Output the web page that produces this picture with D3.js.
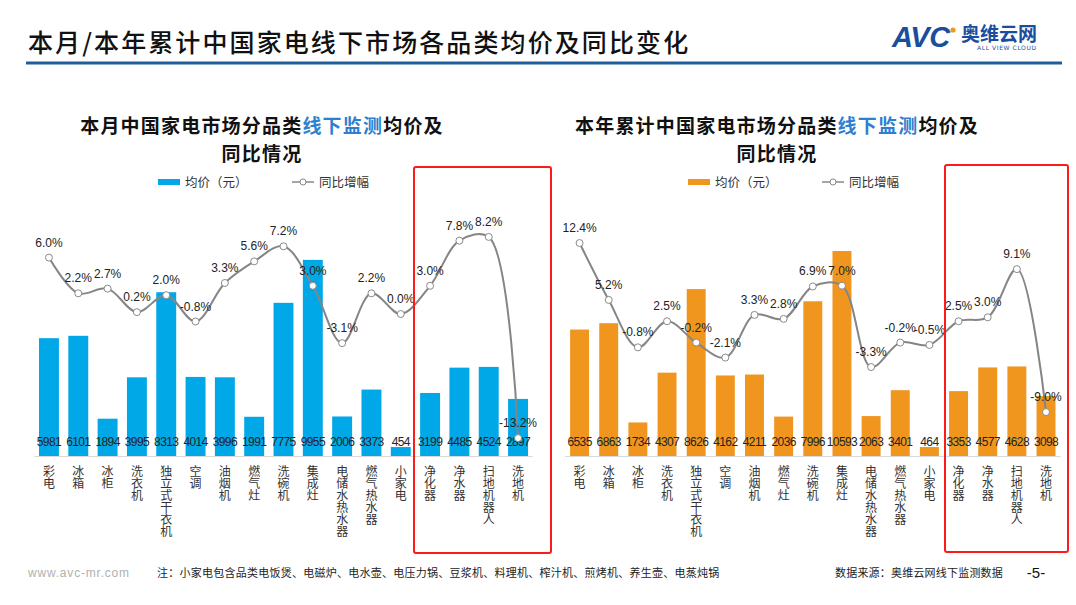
<!DOCTYPE html>
<html><head><meta charset="utf-8">
<script src="https://cdn.jsdelivr.net/npm/d3@7"></script>
<style>
html,body{margin:0;padding:0;background:#fff;}
svg{display:block;font-family:"Noto Sans CJK SC","Noto Sans",sans-serif;}
.vt{writing-mode:vertical-rl;text-orientation:upright;}
</style></head>
<body>
<svg id="c" width="1076" height="605"></svg>
<script>
const categories = ["彩电","冰箱","冰柜","洗衣机","独立式干衣机","空调","油烟机","燃气灶","洗碗机","集成灶","电储水热水器","燃气热水器","小家电","净化器","净水器","扫地机器人","洗地机"];
const monthPrice = [5981,6101,1894,3995,8313,4014,3996,1991,7775,9955,2006,3373,454,3199,4485,4524,2897];
const monthYoY = [6.0,2.2,2.7,0.2,2.0,-0.8,3.3,5.6,7.2,3.0,-3.1,2.2,0.0,3.0,7.8,8.2,-13.2];
const yearPrice = [6535,6863,1734,4307,8626,4162,4211,2036,7996,10593,2063,3401,464,3353,4577,4628,3098];
const yearYoY = [12.4,5.2,-0.8,2.5,-0.2,-2.1,3.3,2.8,6.9,7.0,-3.3,-0.2,-0.5,2.5,3.0,9.1,-9.0];
const legendBar = "均价（元）";
const legendLine = "同比增幅";
const pageTitle = "本月/本年累计中国家电线下市场各品类均价及同比变化";
const note = "注：小家电包含品类电饭煲、电磁炉、电水壶、电压力锅、豆浆机、料理机、榨汁机、煎烤机、养生壶、电蒸炖锅";
const source = "数据来源：奥维云网线下监测数据";

const svg = d3.select("#c");

// Header
svg.append("text").attr("x", 28).attr("y", 52).attr("font-size", 25).attr("font-weight", 500)
  .attr("letter-spacing", 2.1).attr("fill", "#111").text(pageTitle);
svg.append("rect").attr("x", 26).attr("y", 61.5).attr("width", 1036).attr("height", 3).attr("fill", "#1f5d9e");
// Logo
svg.append("text").attr("x", 892).attr("y", 47).attr("font-family", "Liberation Sans, sans-serif")
  .attr("font-size", 29).attr("font-weight", 700).attr("font-style", "italic").attr("letter-spacing", -0.5)
  .attr("fill", "#1a4e9c").text("AVC");
svg.append("circle").attr("cx", 953).attr("cy", 30).attr("r", 2.6).attr("fill", "#f0961e");
svg.append("text").attr("x", 961).attr("y", 41).attr("font-size", 19).attr("font-weight", 700)
  .attr("fill", "#1a4e9c").text("奥维云网");
svg.append("text").attr("x", 977).attr("y", 50).attr("font-family", "DejaVu Sans, sans-serif")
  .attr("font-size", 6).attr("letter-spacing", 0.6).attr("fill", "#1a4e9c").text("ALL VIEW CLOUD");

// Footer
svg.append("text").attr("x", 28).attr("y", 577).attr("font-family", "Liberation Sans, sans-serif")
  .attr("font-size", 12).attr("letter-spacing", 0.8).attr("fill", "#b0b0b0").text("www.avc-mr.com");
svg.append("text").attr("x", 157).attr("y", 577).attr("font-size", 11).attr("letter-spacing", 0.25)
  .attr("fill", "#222").text(note);
svg.append("text").attr("x", 835).attr("y", 577).attr("font-size", 11).attr("letter-spacing", 0.2)
  .attr("fill", "#222").text(source);
svg.append("text").attr("x", 1036).attr("y", 578).attr("text-anchor", "middle").attr("font-family", "Liberation Sans, sans-serif")
  .attr("font-size", 15).attr("fill", "#111").text("-5-");

function drawChart(cfg) {
  const g = svg.append("g");
  const x = d3.scaleBand().domain(categories).range(cfg.xRange).paddingInner(cfg.pad).paddingOuter(cfg.pad / 2);
  const yBar = d3.scaleLinear().domain([0, 10000]).range([cfg.base, cfg.bar10k]);
  const yLine = d3.scaleLinear().domain([0, 10]).range([cfg.zero, cfg.zero - cfg.pxPer * 10]);

  // Title (two lines)
  const t = g.append("text").attr("x", cfg.titleX).attr("y", 133).attr("text-anchor", "middle")
    .attr("font-size", 19).attr("font-weight", 700).attr("letter-spacing", 1.2).attr("fill", "#111");
  t.append("tspan").text(cfg.title1a);
  t.append("tspan").attr("fill", "#2f7fd0").text("线下监测");
  t.append("tspan").text("均价及");
  g.append("text").attr("x", cfg.titleX).attr("y", 161).attr("text-anchor", "middle")
    .attr("font-size", 19).attr("font-weight", 700).attr("letter-spacing", 1.2).attr("fill", "#111").text("同比情况");

  // Legend
  g.append("rect").attr("x", cfg.legX).attr("y", 179).attr("width", 22).attr("height", 6).attr("fill", cfg.color);
  g.append("text").attr("x", cfg.legX + 27).attr("y", 186.5).attr("font-size", 12.5).attr("fill", "#333").text(legendBar);
  g.append("line").attr("x1", cfg.legX + 134).attr("x2", cfg.legX + 156).attr("y1", 182).attr("y2", 182)
    .attr("stroke", "#888").attr("stroke-width", 1.5);
  g.append("circle").attr("cx", cfg.legX + 145).attr("cy", 182).attr("r", 3).attr("fill", "#fff").attr("stroke", "#888");
  g.append("text").attr("x", cfg.legX + 161).attr("y", 186.5).attr("font-size", 12.5).attr("fill", "#333").text(legendLine);

  // Baseline axis
  g.append("line").attr("x1", cfg.xRange[0]).attr("x2", cfg.xRange[1]).attr("y1", cfg.base + 0.5).attr("y2", cfg.base + 0.5)
    .attr("stroke", "#d9d9d9").attr("stroke-width", 1);

  // Bars
  g.selectAll(".bar").data(cfg.price).join("rect")
    .attr("x", (d, i) => x(categories[i])).attr("width", x.bandwidth())
    .attr("y", d => yBar(d)).attr("height", d => cfg.base - yBar(d)).attr("fill", cfg.color);

  // Bar value labels
  g.selectAll(".bl").data(cfg.price).join("text")
    .attr("x", (d, i) => x(categories[i]) + x.bandwidth() / 2).attr("y", cfg.base - 10)
    .attr("text-anchor", "middle").attr("font-family", "Liberation Sans, sans-serif")
    .attr("font-size", 12).attr("letter-spacing", -0.6).attr("fill", "#222").text(d => d);

  // Line
  const pts = cfg.yoy.map((v, i) => [x(categories[i]) + x.bandwidth() / 2, yLine(v)]);
  g.append("path").attr("d", d3.line().curve(d3.curveCatmullRom.alpha(0.5))(pts))
    .attr("fill", "none").attr("stroke", "#858585").attr("stroke-width", 2);
  g.selectAll(".pt").data(pts).join("circle").attr("cx", d => d[0]).attr("cy", d => d[1]).attr("r", 3.5)
    .attr("fill", "#fff").attr("stroke", "#8a8a8a").attr("stroke-width", 1);
  g.selectAll(".pl").data(cfg.yoy).join("text")
    .attr("x", (d, i) => pts[i][0]).attr("y", (d, i) => pts[i][1] - 11)
    .attr("text-anchor", "middle").attr("font-family", "Liberation Sans, sans-serif")
    .attr("font-size", 12).attr("fill", "#222").text(d => d.toFixed(1) + "%");

  // Category labels (vertical writing)
  g.selectAll(".cat").data(categories).join("text").attr("class", "vt")
    .attr("x", c => x(c) + x.bandwidth() / 2).attr("y", 465)
    .attr("font-size", 12).attr("fill", "#333").text(c => c);

  // Red highlight box
  g.append("rect").attr("x", cfg.box[0]).attr("y", cfg.box[1]).attr("width", cfg.box[2]).attr("height", cfg.box[3])
    .attr("rx", 2).attr("fill", "none").attr("stroke", "#ff1a1a").attr("stroke-width", 2);
}

drawChart({
  xRange: [34.3, 532.7], pad: 0.32, base: 456, bar10k: 259, zero: 314, pxPer: 9.4,
  price: monthPrice, yoy: monthYoY, color: "#00a8e8",
  title1a: "本月中国家电市场分品类", titleX: 262, legX: 158,
  box: [414, 167, 137, 386]
});
drawChart({
  xRange: [565, 1060.6], pad: 0.35, base: 456, bar10k: 262.5, zero: 341, pxPer: 7.9,
  price: yearPrice, yoy: yearYoY, color: "#f0961e",
  title1a: "本年累计中国家电市场分品类", titleX: 777, legX: 688,
  box: [945, 165, 123, 387]
});
</script>
</body></html>
